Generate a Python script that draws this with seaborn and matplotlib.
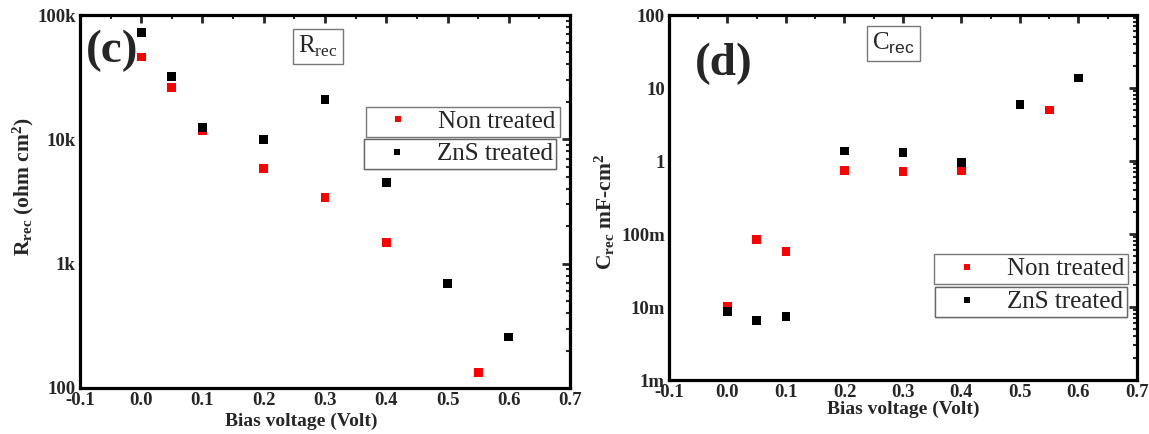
import numpy as np
import pandas as pd
import matplotlib

matplotlib.use("Agg")
import matplotlib.pyplot as plt
import seaborn as sns
from matplotlib.lines import Line2D
from matplotlib.ticker import FixedLocator, LogLocator, MultipleLocator, FuncFormatter

# panel (c): recombination resistance
bias_rrec_non = [0.0, 0.05, 0.1, 0.2, 0.3, 0.4, 0.55]
rrec_non = [46000, 26000, 11700, 5800, 3400, 1480, 133]
bias_rrec_zns = [0.0, 0.05, 0.1, 0.2, 0.3, 0.4, 0.5, 0.6]
rrec_zns = [72000, 32000, 12400, 10000, 21000, 4500, 690, 257]

# panel (d): recombination capacitance (mF)
bias_crec_non = [0.0, 0.05, 0.1, 0.2, 0.3, 0.4, 0.55]
crec_non = [0.0103, 0.0845, 0.057, 0.75, 0.71, 0.74, 5.0]
bias_crec_zns = [0.0, 0.05, 0.1, 0.2, 0.3, 0.4, 0.5, 0.6]
crec_zns = [0.0086, 0.0065, 0.0075, 1.37, 1.32, 0.96, 6.0, 13.7]

rrec_ticks = [100, 1000, 10000, 100000]
rrec_labels = ["100", "1k", "10k", "100k"]
crec_ticks = [0.001, 0.01, 0.1, 1, 10, 100]
crec_labels = ["1m", "10m", "100m", "1", "10", "100"]

series_names = ["Non treated", "ZnS treated"]
palette = {"Non treated": "#ff0000", "ZnS treated": "#000000"}

sns.set_style("white")
plt.rcParams["font.family"] = ["Liberation Serif", "DejaVu Serif"]
plt.rcParams["mathtext.fontset"] = "custom"
plt.rcParams["mathtext.rm"] = "Liberation Serif"
plt.rcParams["mathtext.bf"] = "Liberation Serif:bold"
plt.rcParams["mathtext.sf"] = "Liberation Sans"

fig = plt.figure(figsize=(11.49, 4.34), dpi=100)
ax1 = fig.add_axes([0.0696, 0.106, 0.4265, 0.8594])
ax2 = fig.add_axes([0.5822, 0.1244, 0.4073, 0.841])


def make_df(x_non, y_non, x_zns, y_zns):
    d1 = pd.DataFrame({"bias": x_non, "val": y_non, "sample": series_names[0]})
    d2 = pd.DataFrame({"bias": x_zns, "val": y_zns, "sample": series_names[1]})
    return pd.concat([d1, d2], ignore_index=True)


def style_axes(ax, ylim, ticks, labels):
    ax.set_yscale("log")
    ax.set_xlim(-0.1, 0.7)
    ax.set_ylim(*ylim)
    ax.xaxis.set_major_locator(MultipleLocator(0.1))
    ax.xaxis.set_minor_locator(MultipleLocator(0.05))
    ax.xaxis.set_major_formatter(FuncFormatter(lambda v, p: f"{v:.1f}"))
    ax.yaxis.set_major_locator(FixedLocator(ticks))
    ax.yaxis.set_major_formatter(FuncFormatter(lambda v, p: labels[p] if p is not None and p < len(labels) else ""))
    ax.yaxis.set_minor_locator(LogLocator(base=10, subs=np.arange(2, 10)))
    ax.tick_params(which="both", direction="in", top=True, right=True)
    ax.tick_params(which="major", length=6, width=2, labelsize=13.5, pad=3)
    ax.tick_params(which="minor", length=3, width=1.5)
    for lab in ax.get_xticklabels() + ax.get_yticklabels():
        lab.set_fontweight("bold")
    for sp in ax.spines.values():
        sp.set_linewidth(2.3)
        sp.set_color("black")
    ax.set_xlabel("Bias voltage (Volt)", fontsize=14, fontweight="bold", labelpad=0)


def two_box_legend(ax, anchors):
    for name, anc in zip(series_names, anchors):
        h = Line2D([], [], ls="none", marker="s", markersize=4.8,
                   color=palette[name], markeredgewidth=0)
        leg = ax.legend([h], [name], loc="upper left", bbox_to_anchor=anc,
                        bbox_transform=fig.transFigure, frameon=True, fancybox=False,
                        fontsize=18, handlelength=2.3, handletextpad=0.45,
                        borderpad=0.15, borderaxespad=0)
        leg.get_frame().set_edgecolor("#555555")
        leg.get_frame().set_linewidth(1.0)
        ax.add_artist(leg)


# (c)
df_r = make_df(bias_rrec_non, rrec_non, bias_rrec_zns, rrec_zns)
sns.scatterplot(data=df_r, x="bias", y="val", hue="sample", palette=palette,
                marker="s", s=40, linewidth=0, ax=ax1, legend=False)
style_axes(ax1, (100, 100000), rrec_ticks, rrec_labels)
ax1.set_ylabel(r"$\mathbf{R_{rec}}$ (ohm cm$\mathbf{^2}$)", fontsize=15.5, fontweight="bold")
ax1.xaxis.set_label_coords(0.452, -0.065)
ax1.yaxis.set_label_coords(-0.09, 0.54)
ax1.text(0.065, 0.905, "(c)", transform=ax1.transAxes, fontsize=34, fontweight="bold",
         ha="center", va="center")
ax1.text(0.486, 0.915, r"R$_{\mathrm{rec}}$", transform=ax1.transAxes, fontsize=18,
         ha="center", va="center",
         bbox=dict(boxstyle="square,pad=0.2", fc="white", ec="#777777", lw=1))
two_box_legend(ax1, [(0.3185, 0.7535), (0.3168, 0.6797)])

# (d)
df_c = make_df(bias_crec_non, crec_non, bias_crec_zns, crec_zns)
sns.scatterplot(data=df_c, x="bias", y="val", hue="sample", palette=palette,
                marker="s", s=40, linewidth=0, ax=ax2, legend=False)
style_axes(ax2, (0.001, 100), crec_ticks, crec_labels)
ax2.set_ylabel(r"$\mathbf{C_{rec}}$ mF-cm$\mathbf{^2}$", fontsize=15.5, fontweight="bold")
ax2.xaxis.set_label_coords(0.5, -0.058)
ax2.yaxis.set_label_coords(-0.11, 0.46)
ax2.text(0.117, 0.866, "(d)", transform=ax2.transAxes, fontsize=34, fontweight="bold",
         ha="center", va="center")
ax2.text(0.479, 0.922, r"C$_{\mathsf{rec}}$", transform=ax2.transAxes, fontsize=18,
         ha="center", va="center",
         bbox=dict(boxstyle="square,pad=0.2", fc="white", ec="#777777", lw=1))
two_box_legend(ax2, [(0.8129, 0.4147), (0.8137, 0.3387)])

fig.savefig("out.png", dpi=100)
plt.close(fig)
